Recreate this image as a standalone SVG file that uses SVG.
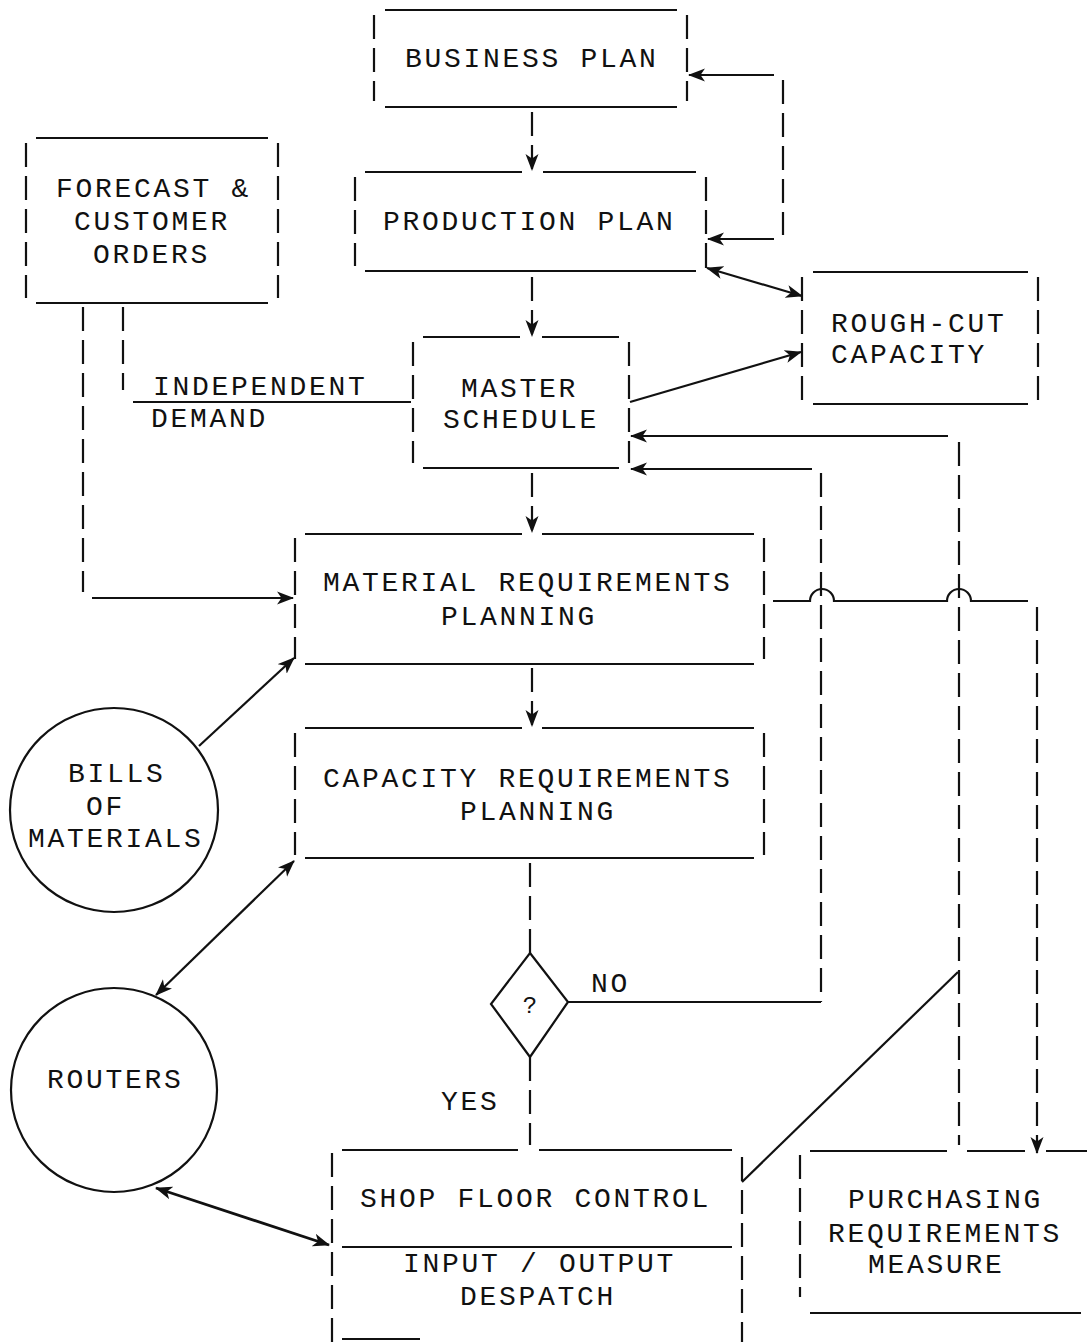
<svg xmlns="http://www.w3.org/2000/svg" width="1087" height="1342" viewBox="0 0 1087 1342">
<style>
  text { font-family: "Liberation Mono", "Courier New", monospace; font-size: 28px; letter-spacing: 2.7px; fill: #111; }
  .s { stroke: #111; stroke-width: 2.2; fill: none; }
  .d { stroke: #111; stroke-width: 2.2; fill: none; stroke-dasharray: 24 9; }
  .t { stroke-width: 2.8; }
</style>
<defs>
  <marker id="ah" markerUnits="userSpaceOnUse" markerWidth="18" markerHeight="14" refX="16" refY="7" orient="auto-start-reverse" viewBox="0 0 18 14">
    <path d="M0,0.5 L17,7 L0,13.5 L4.5,7 Z" fill="#111"/>
  </marker>
</defs>
<rect width="1087" height="1342" fill="#fff"/>

<g id="business-plan">
  <path class="s" d="M385,10 H677 M385,107 H677"/>
  <path class="d" d="M374,15 V101 M687,15 V101"/>
  <text x="405" y="67">BUSINESS PLAN</text>
</g>

<g id="production-plan">
  <path class="s" d="M365,172 H522 M543,172 H696 M365,271 H696"/>
  <path class="d" d="M355,177 V266 M706,177 V237"/>
  <text x="383" y="230">PRODUCTION PLAN</text>
</g>

<g id="forecast">
  <path class="s" d="M36,138 H268 M36,303 H268"/>
  <path class="d" d="M26,143 V298 M278,143 V298"/>
  <text x="56" y="197">FORECAST &amp;</text>
  <text x="74" y="230">CUSTOMER</text>
  <text x="93" y="263">ORDERS</text>
</g>

<g id="master-schedule">
  <path class="s" d="M423,337 H520 M542,337 H619 M423,468 H619"/>
  <path class="d" d="M413,342 V463 M629,342 V463"/>
  <text x="461" y="397">MASTER</text>
  <text x="443" y="428">SCHEDULE</text>
</g>

<g id="rough-cut">
  <path class="s" d="M813,272 H1028 M813,404 H1028"/>
  <path class="d" d="M802,277 V400 M1038,277 V400"/>
  <text x="831" y="332">ROUGH-CUT</text>
  <text x="831" y="363">CAPACITY</text>
</g>

<g id="mrp">
  <path class="s" d="M305,534 H522 M542,534 H754 M305,664 H754"/>
  <path class="d" d="M295,538 V659 M764,538 V659"/>
  <text x="323" y="591">MATERIAL REQUIREMENTS</text>
  <text x="441" y="625">PLANNING</text>
</g>

<g id="crp">
  <path class="s" d="M305,728 H522 M542,728 H754 M305,858 H754"/>
  <path class="d" d="M295,733 V855 M764,733 V855"/>
  <text x="323" y="787">CAPACITY REQUIREMENTS</text>
  <text x="460" y="820">PLANNING</text>
</g>

<g id="bills-of-materials">
  <ellipse class="s" cx="114" cy="810" rx="104" ry="102"/>
  <text x="68" y="782">BILLS</text>
  <text x="86" y="815">OF</text>
  <text x="28" y="847">MATERIALS</text>
</g>

<g id="routers">
  <ellipse class="s" cx="114" cy="1090" rx="103" ry="102"/>
  <text x="47" y="1088">ROUTERS</text>
</g>

<g id="decision">
  <polygon class="s" points="530,953 568,1002 530,1057 491,1004"/>
  <text x="530" y="1013" text-anchor="middle" style="font-size:24px;letter-spacing:0">?</text>
</g>

<g id="shop-floor-control">
  <path class="s" d="M342,1150 H518 M539,1150 H732 M342,1247 H732 M342,1339 H420"/>
  <path class="d" d="M332,1153 V1342 M742,1157 V1342"/>
  <text x="360" y="1207">SHOP FLOOR CONTROL</text>
  <text x="403" y="1272">INPUT / OUTPUT</text>
  <text x="460" y="1305">DESPATCH</text>
</g>

<g id="purchasing">
  <path class="s" d="M810,1151 H947 M967,1151 H1025 M1046,1151 H1087 M810,1313 H1081"/>
  <path class="d" d="M800,1155 V1297"/>
  <text x="848" y="1208">PURCHASING</text>
  <text x="828" y="1242">REQUIREMENTS</text>
  <text x="868" y="1273">MEASURE</text>
</g>

<g id="connectors">
  <path class="d" d="M532,112 V170" marker-end="url(#ah)"/>
  <path class="d" d="M532,277 V336" marker-end="url(#ah)"/>
  <path class="d" d="M532,473 V532" marker-end="url(#ah)"/>
  <path class="d" d="M532,668 V726" marker-end="url(#ah)"/>
  <path class="d" d="M530,863 V953"/>
  <path class="d" d="M530,1057 V1145"/>
  <path class="d" d="M783,80 V235"/>
  <path class="s" d="M774,75 H689" marker-end="url(#ah)"/>
  <path class="s" d="M774,239 H708" marker-end="url(#ah)"/>
  <path class="s" d="M706,243 V268"/>
  <path class="s" d="M707,268 L802,296" marker-start="url(#ah)" marker-end="url(#ah)"/>
  <path class="s" d="M630,402 L801,352" marker-end="url(#ah)"/>
  <path class="d" d="M83,307 V592"/>
  <path class="s" d="M92,598 H293" marker-end="url(#ah)"/>
  <path class="d" d="M123,307 V390"/>
  <path class="s" d="M133,402 H411"/>
  <path class="s" d="M773,601 H810 A12,12 0 0 1 834,601 H947 A12,12 0 0 1 971,601 H1028"/>
  <path class="d" d="M1037,607 V1153" marker-end="url(#ah)"/>
  <path class="d" d="M959,442 V1145"/>
  <path class="s" d="M948,436 H631" marker-end="url(#ah)"/>
  <path class="d" d="M821,473 V1002"/>
  <path class="s" d="M812,469 H631" marker-end="url(#ah)"/>
  <path class="s" d="M568,1002 H821"/>
  <path class="s" d="M742,1182 L958,972"/>
  <path class="s" d="M199,746 L294,658" marker-end="url(#ah)"/>
  <path class="s" d="M294,861 L156,995" marker-start="url(#ah)" marker-end="url(#ah)"/>
  <path class="s t" d="M156,1188 L329,1245" marker-start="url(#ah)" marker-end="url(#ah)"/>
  <text x="153" y="395">INDEPENDENT</text>
  <text x="151" y="427">DEMAND</text>
  <text x="591" y="992">NO</text>
  <text x="441" y="1110">YES</text>
</g>
</svg>
